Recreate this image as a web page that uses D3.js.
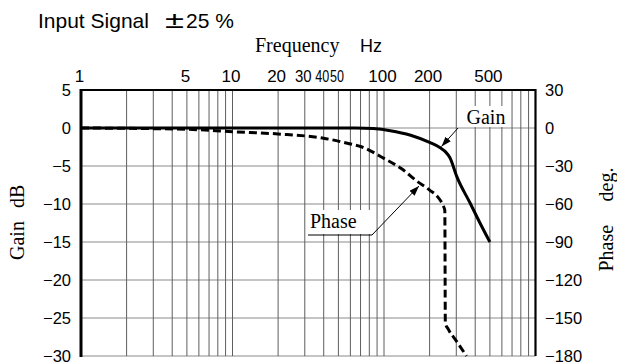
<!DOCTYPE html>
<html>
<head>
<meta charset="utf-8">
<script src="https://cdn.jsdelivr.net/npm/d3@7"></script>
<style>
  body { margin: 0; background: #fff; }
  .sans { font-family: "Liberation Sans", Arial, sans-serif; }
  .serif { font-family: "Liberation Serif", "Times New Roman", serif; }
</style>
</head>
<body>
<svg width="617" height="363"></svg>
<script>
// tick labels
const freqTicks = [1, 5, 10, 20, 30, 40, 50, 100, 200, 500];
const squeezed = [30, 40, 50];
const gainTicks = [5, 0, -5, -10, -15, -20, -25, -30];
const phaseTicks = [30, 0, -30, -60, -90, -120, -150, -180];

// gain curve (dB)
const gainFreq = [1, 10, 50, 65, 85, 110, 150, 200, 235, 253, 273, 302, 370, 430, 500];
const gainDb   = [0, 0, 0, 0, -0.08, -0.35, -0.95, -1.9, -2.6, -3.08, -3.95, -6.37, -9.87, -12.5, -15];

// phase curve (deg)
const phaseFreq = [1, 5, 10, 20, 40, 60, 70, 100, 130, 165, 200, 225, 245, 252, 254, 266, 300, 350];
const phaseDeg  = [0, -1, -3, -4.7, -8.1, -12.6, -14.6, -24, -32, -42, -49, -54, -61, -65, -154, -159, -168, -180];

var svg = d3.select("svg");

var x = d3.scaleLog()
    .domain([1, 1000])
    .range([81, 535.5]);

var yGain = d3.scaleLinear()
    .domain([-30, 5])
    .range([356, 90]);

var yPhase = d3.scaleLinear()
    .domain([-180, 30])
    .range([356, 90]);

var minus = (d) => String(d).replace("-", "\u2212");

// arrow head
svg.append("defs").append("marker")
    .attr("id", "arrow")
    .attr("viewBox", "0 0 10 7")
    .attr("refX", 10)
    .attr("refY", 3.5)
    .attr("markerWidth", 10)
    .attr("markerHeight", 7)
    .attr("markerUnits", "userSpaceOnUse")
    .attr("orient", "auto")
  .append("path")
    .attr("d", "M0,0 L10,3.5 L0,7 z")
    .attr("fill", "#000");

// grid
var grid = svg.append("g");

grid.selectAll(".hline")
    .data(gainTicks)
  .enter().append("line")
    .attr("x1", x(1))
    .attr("x2", x(1000))
    .attr("y1", (d) => yGain(d))
    .attr("y2", (d) => yGain(d))
    .attr("stroke", "#8a8a8a")
    .attr("stroke-width", 1);

grid.selectAll(".vline")
    .data(x.ticks().filter((d) => d > 1 && d < 1000))
  .enter().append("line")
    .attr("x1", (d) => x(d))
    .attr("x2", (d) => x(d))
    .attr("y1", yGain(5))
    .attr("y2", yGain(-30))
    .attr("stroke", "#5e5e5e")
    .attr("stroke-width", 1);

// frame
svg.append("line")
    .attr("x1", x(1)).attr("x2", x(1000))
    .attr("y1", yGain(5)).attr("y2", yGain(5))
    .attr("stroke", "#000").attr("stroke-width", 2.2);

svg.append("line")
    .attr("x1", x(1000)).attr("x2", x(1000))
    .attr("y1", yGain(5) - 1).attr("y2", yGain(-30))
    .attr("stroke", "#000").attr("stroke-width", 2.2);

svg.append("line")
    .attr("x1", x(1)).attr("x2", x(1))
    .attr("y1", yGain(5) - 1).attr("y2", yGain(-30) + 1)
    .attr("stroke", "#000").attr("stroke-width", 3);

// label boxes hide the grid behind the text
svg.append("rect")
    .attr("x", 463).attr("y", 106)
    .attr("width", 47).attr("height", 21)
    .attr("fill", "#fff");

svg.append("rect")
    .attr("x", 308).attr("y", 210)
    .attr("width", 63).attr("height", 24)
    .attr("fill", "#fff");

// curves
var gainLine = d3.line()
    .x((d, i) => x(gainFreq[i]))
    .y((d) => yGain(d))
    .curve(d3.curveMonotoneX);

var phaseLine = d3.line()
    .x((d, i) => x(phaseFreq[i]))
    .y((d) => yPhase(d))
    .curve(d3.curveMonotoneX);

svg.append("path")
    .datum(phaseDeg)
    .attr("d", phaseLine)
    .attr("fill", "none")
    .attr("stroke", "#000")
    .attr("stroke-width", 3)
    .attr("stroke-dasharray", "8,4");

svg.append("path")
    .datum(gainDb)
    .attr("d", gainLine)
    .attr("fill", "none")
    .attr("stroke", "#000")
    .attr("stroke-width", 3);

// callouts
svg.append("text")
    .attr("class", "serif")
    .attr("x", 466.5).attr("y", 124)
    .attr("font-size", 20)
    .text("Gain");

svg.append("polyline")
    .attr("points", "458,128 441.5,146.5")
    .attr("fill", "none")
    .attr("stroke", "#000")
    .attr("stroke-width", 1)
    .attr("marker-end", "url(#arrow)");

svg.append("text")
    .attr("class", "serif")
    .attr("x", 310).attr("y", 228)
    .attr("font-size", 20)
    .text("Phase");

svg.append("polyline")
    .attr("points", "308,235 372,235 419,186")
    .attr("fill", "none")
    .attr("stroke", "#000")
    .attr("stroke-width", 1)
    .attr("marker-end", "url(#arrow)");

// axis labels
svg.selectAll(".gtick")
    .data(gainTicks)
  .enter().append("text")
    .attr("class", "sans")
    .attr("x", 71)
    .attr("y", (d) => yGain(d) + 5.5)
    .attr("text-anchor", "end")
    .attr("font-size", 16.5)
    .text(minus);

svg.selectAll(".ptick")
    .data(phaseTicks)
  .enter().append("text")
    .attr("class", "sans")
    .attr("x", 545)
    .attr("y", (d) => yPhase(d) + 5.5)
    .attr("font-size", 16.5)
    .text(minus);

svg.selectAll(".ftick")
    .data(freqTicks)
  .enter().append("text")
    .attr("class", "sans")
    .attr("text-anchor", "middle")
    .attr("font-size", 17)
    .attr("transform", (d) => {
        var sx = d === 30 ? 0.88 : squeezed.includes(d) ? 0.74 : 1;
        return `translate(${x(d) - 1.5},81.5) scale(${sx},1)`;
    })
    .text((d) => d);

// titles
var title = svg.append("text")
    .attr("class", "sans")
    .attr("x", 38).attr("y", 28)
    .attr("font-size", 21);
title.append("tspan").text("Input Signal");
title.append("tspan")
    .attr("x", 165)
    .attr("font-size", 24)
    .attr("textLength", 19)
    .attr("lengthAdjust", "spacingAndGlyphs")
    .text("\u00b1");
title.append("tspan").attr("x", 186).text("25 %");

var ftitle = svg.append("text")
    .attr("x", 255).attr("y", 52);
ftitle.append("tspan").attr("class", "serif").attr("font-size", 20).text("Frequency");
ftitle.append("tspan").attr("class", "sans").attr("font-size", 18).attr("x", 360).text("Hz");

var gtitle = svg.append("text")
    .attr("class", "serif")
    .attr("font-size", 20)
    .attr("transform", "translate(24,260) rotate(-90)");
gtitle.append("tspan").text("Gain");
gtitle.append("tspan").attr("x", 52).text("dB");

var ptitle = svg.append("text")
    .attr("class", "serif")
    .attr("font-size", 20)
    .attr("transform", "translate(613,271.5) rotate(-90)");
ptitle.append("tspan").text("Phase");
ptitle.append("tspan").attr("x", 70).text("deg.");
</script>
</body>
</html>
